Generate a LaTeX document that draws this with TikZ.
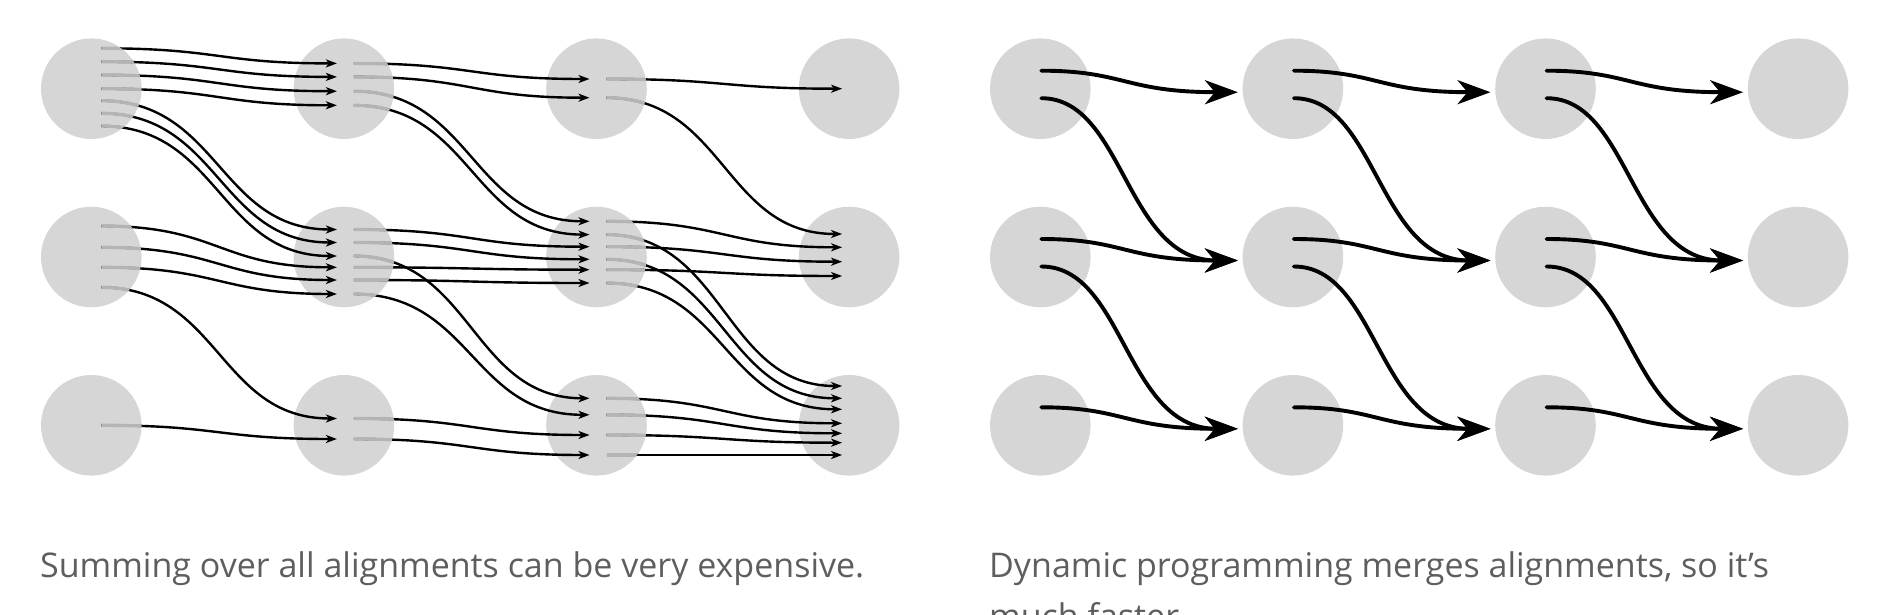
\documentclass[tikz,border=0pt]{standalone}
\usepackage{fontspec}
\setmainfont{Open Sans}
\usetikzlibrary{arrows.meta}
\definecolor{nodegray}{HTML}{D6D6D6}
\definecolor{stubgray}{HTML}{B4B4B4}
\definecolor{captiongray}{HTML}{5E5E5E}
\begin{document}
\begin{tikzpicture}[x=1pt,y=-1pt,
  dot/.style={circle,fill=nodegray,draw=none,minimum size=100.6pt,inner sep=0pt},
  lline/.style={line width=2.4pt,black,-{Stealth[length=11pt,width=8pt,inset=3pt]}},
  lstub/.style={line width=3.3pt,stubgray},
  rline/.style={line width=3.9pt,black,line cap=round,shorten >=-30pt,-{Stealth[length=33pt,width=24pt,inset=10pt]}},
  caption/.style={anchor=base west,inner sep=0pt,text=captiongray,font=\fontsize{34}{51}\selectfont}]
\useasboundingbox (0,0) rectangle (1887,615);
\clip (0,0) rectangle (1887,615);
% ---------- left panel nodes ----------
\foreach \c/\x in {1/91.3,2/343.9,3/596.5,4/849.1}
  \foreach \r/\y in {1/88.7,2/257,3/425.3}
    \node[dot] (L\r\c) at (\x,\y) {};
% ---------- right panel nodes ----------
\foreach \c/\x in {1/1040.3,2/1292.9,3/1545.5,4/1798.1}
  \foreach \r/\y in {1/88.7,2/257,3/425.3}
    \node[dot] (R\r\c) at (\x,\y) {};
% ---------- left panel edges ----------
\def\alledges{%
 \lalign{L11}{-40.4}{L12}{-25.3}
 \lalign{L11}{-27}{L12}{-11.8}
 \lalign{L11}{-13.7}{L12}{2.5}
 \lalign{L11}{0}{L12}{16.6}
 \lalign{L11}{12}{L22}{-27.5}
 \lalign{L11}{24.6}{L22}{-14.5}
 \lalign{L11}{37.3}{L22}{-1}
 \lalign{L21}{-31}{L22}{10.3}
 \lalign{L21}{-9.7}{L22}{23}
 \lalign{L21}{10.3}{L22}{37}
 \lalign{L21}{30.3}{L32}{-6.8}
 \lalign{L31}{0}{L32}{13.7}
 \lalign{L12}{-25.3}{L13}{-9.7}
 \lalign{L12}{-11.8}{L13}{9}
 \lalign{L12}{2.5}{L23}{-35.7}
 \lalign{L12}{16.6}{L23}{-22.4}
 \lalign{L22}{-27.5}{L23}{-10.3}
 \lalign{L22}{-14.5}{L23}{2.3}
 \lalign{L22}{10.3}{L23}{12.7}
 \lalign{L22}{23}{L23}{26}
 \lalign{L22}{-1}{L33}{-27}
 \lalign{L22}{37}{L33}{-10.5}
 \lalign{L32}{-6.8}{L33}{9.7}
 \lalign{L32}{13.7}{L33}{29.7}
 \lalign{L13}{-9.7}{L14}{0}
 \lalign{L13}{9}{L24}{-23}
 \lalign{L23}{-35.7}{L24}{-9.7}
 \lalign{L23}{-10.3}{L24}{4.7}
 \lalign{L23}{12.7}{L24}{19}
 \lalign{L23}{-22.4}{L34}{-39.3}
 \lalign{L23}{2.3}{L34}{-27}
 \lalign{L23}{26}{L34}{-16}
 \lalign{L33}{-27}{L34}{-2}
 \lalign{L33}{-10.5}{L34}{8}
 \lalign{L33}{9.7}{L34}{17.4}
 \lalign{L33}{29.7}{L34}{29.7}
}
% black pass
\def\lalign#1#2#3#4{\draw[lline] ([shift={(10,#2)}]#1.center) .. controls +(118,0) and +(-118,0) .. ([shift={(-7,#4)}]#3.center);}
\alledges
% grey pass (part inside the source circle)
\def\lalign#1#2#3#4{\begin{scope}\clip (#1.center) circle[radius=50.3];
  \draw[lstub] ([shift={(10,#2)}]#1.center) .. controls +(118,0) and +(-118,0) .. ([shift={(-7,#4)}]#3.center);\end{scope}}
\alledges
% ---------- right panel edges ----------
\def\rstraight#1#2{\draw[rline] ([shift={(1,-18)}]#1.center) .. controls +(83,0) and +(-83,0) .. ([shift={(-85,3.5)}]#2.center);}
\def\rdiag#1#2{\draw[rline] ([shift={(1,9.5)}]#1.center) .. controls +(83,0) and +(-83,0) .. ([shift={(-85,3.5)}]#2.center);}
\rstraight{R11}{R12} \rstraight{R12}{R13} \rstraight{R13}{R14}
\rstraight{R21}{R22} \rstraight{R22}{R23} \rstraight{R23}{R24}
\rstraight{R31}{R32} \rstraight{R32}{R33} \rstraight{R33}{R34}
\rdiag{R11}{R22} \rdiag{R12}{R23} \rdiag{R13}{R24}
\rdiag{R21}{R32} \rdiag{R22}{R33} \rdiag{R23}{R34}
% ---------- captions ----------
\node[caption] (lcap) at (40,577) {Summing over all alignments can be very expensive.};
\node[caption] (rcap1) at (989,577) {Dynamic programming merges alignments, so it’s};
\node[caption] (rcap2) at (989,628) {much faster.};
\end{tikzpicture}
\end{document}
